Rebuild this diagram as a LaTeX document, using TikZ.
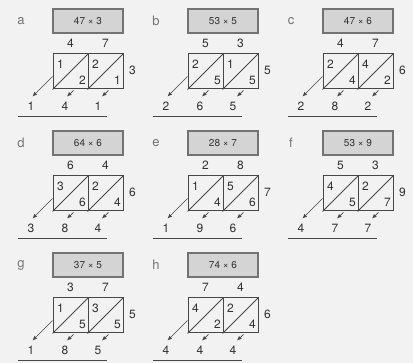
\documentclass[tikz,border=0pt]{standalone}
\usepackage{fontspec}
\setmainfont{TeX Gyre Heros}
\usetikzlibrary{arrows.meta,calc}

\tikzset{
  panellabel/.style={font=\fontsize{13}{15}\selectfont, text=black!55},
  sumbox/.style={draw=black!55, fill=black!17, line width=1.2pt, minimum width=70pt,
    minimum height=24pt, inner sep=0pt, font=\fontsize{10}{12}\selectfont},
  cell/.style={draw=black!72, line width=1pt, minimum width=35pt, minimum height=35pt, inner sep=0pt},
  celline/.style={draw=black!72, line width=1pt},
  carry/.style={-{Latex[length=4.5pt,width=4pt]}, draw=black!72, line width=0.7pt},
  rule/.style={draw=black!72, line width=1pt}
}

\begin{document}
\begin{tikzpicture}[x=1pt, y=-1pt, every node/.style={font=\fontsize{12}{14}\selectfont, text=black!80}]
  \fill[black!5] (0,0) rectangle (413,363);
  \useasboundingbox (0,0) rectangle (413,363);
  % one lattice per panel
  \foreach \l/\px/\py/\ta/\tb/\m/\aa/\ab/\ba/\bb/\ra/\rb/\rc in {
      a/0/0/4/7/3/1/2/2/1/1/4/1,
      b/135/0/5/3/5/2/5/1/5/2/6/5,
      c/270/0/4/7/6/2/4/4/2/2/8/2,
      d/0/122/6/4/6/3/6/2/4/3/8/4,
      e/135/122/2/8/7/1/4/5/6/1/9/6,
      f/270/122/5/3/9/4/5/2/7/4/7/7,
      g/0/244/3/7/5/1/5/3/5/1/8/5,
      h/135/244/7/4/6/4/2/2/4/4/4/4}{
    \begin{scope}[shift={(\px,\py)}]
      \node[panellabel] (lab\l) at (21,21) {\l};
      \node[sumbox] (box\l) at (88,21) {\ta\tb{} × \m};
      \node[cell] (left\l) at (70.5,71.5) {};
      \node[cell] (right\l) at (105.5,71.5) {};
      \draw[celline] (left\l.south west) -- (left\l.north east);
      \draw[celline] (right\l.south west) -- (right\l.north east);
      \node (aa\l) at ($(left\l.north west)+(8,11)$) {\aa};
      \node (ab\l) at ($(left\l.south east)+(-6,-9)$) {\ab};
      \node (ba\l) at ($(right\l.north west)+(8,11)$) {\ba};
      \node (bb\l) at ($(right\l.south east)+(-6,-9)$) {\bb};
      \node (ta\l) at ($(left\l.north)+(0,-10)$) {\ta};
      \node (tb\l) at ($(right\l.north)+(0,-10)$) {\tb};
      \node (m\l) at ($(right\l.east)+(9,-1)$) {\m};
      % carries down to the answer
      \coordinate (from0\l) at ($(left\l.south west)+(0,-13)$);
      \coordinate (to0\l) at ($(left\l.south west)+(-20,7)$);
      \coordinate (from1\l) at ($(left\l.south)+(3,1)$);
      \coordinate (to1\l) at ($(left\l.south)+(-3.5,7)$);
      \coordinate (from2\l) at ($(right\l.south)+(3,1)$);
      \coordinate (to2\l) at ($(right\l.south)+(-3.5,7)$);
      \draw[carry] (from0\l) -- (to0\l);
      \draw[carry] (from1\l) -- (to1\l);
      \draw[carry] (from2\l) -- (to2\l);
      \node (ra\l) at (31,106) {\ra};
      \node (rb\l) at (65,106) {\rb};
      \node (rc\l) at (98,106) {\rc};
      \draw[rule] (18,117) -- (107,117);
    \end{scope}
  }
\end{tikzpicture}
\end{document}
